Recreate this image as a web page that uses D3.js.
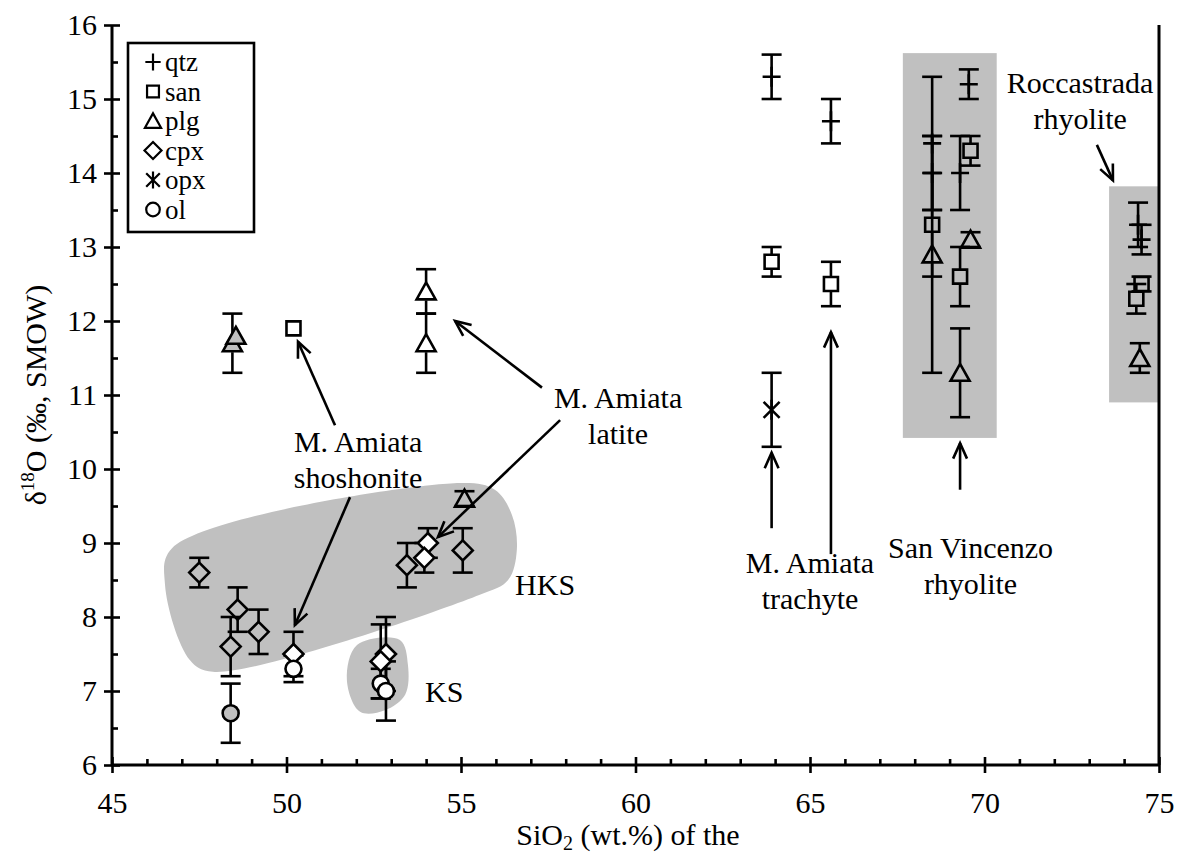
<!DOCTYPE html>
<html><head><meta charset="utf-8">
<script src="https://cdn.jsdelivr.net/npm/d3@7"></script>
<style>
body{margin:0;background:#fff}
svg text{font-family:"Liberation Serif","Times New Roman",serif;fill:#000}
</style>
</head><body>
<svg id="chart" width="1178" height="854"></svg>
<script>
// Mineral δ18O data: [SiO2 of host rock (wt.%), δ18O (‰), ± error]
const qtz = [[63.9,15.3,0.3],[65.6,14.7,0.3],[68.5,14.4,0.9],[68.5,14.0,0.5],[69.55,15.2,0.2],[69.3,14.0,0.5],[74.4,13.3,0.3],[74.5,13.1,0.2]];
const san = [[50.2,11.9,0],[63.9,12.8,0.2],[65.6,12.5,0.3],[68.5,13.3,0.7],[69.6,14.3,0.2],[69.3,12.6,0.4],[74.5,12.5,0.1],[74.35,12.3,0.2]];
const plg = [[48.45,11.7,0.4],[48.55,11.8,0],[54.0,12.4,0.3],[54.0,11.7,0.4],[55.1,9.6,0.1],[68.5,12.9,1.6],[69.6,13.1,0.1],[69.3,11.3,0.6],[74.45,11.5,0.2]];
const cpx = [[47.5,8.6,0.2],[48.6,8.1,0.3],[49.2,7.8,0.3],[48.4,7.6,0.4],[50.2,7.5,0.3],[53.45,8.7,0.3],[54.05,9.0,0.2],[53.95,8.8,0.2],[55.05,8.9,0.3],[52.85,7.5,0.5],[52.7,7.4,0.5]];
const opx = [[63.9,10.8,0.5]];
const ol = [[48.4,6.7,0.4],[50.2,7.3,0.18],[52.7,7.1,0.2],[52.85,7.0,0.4]];

const legendLabels = ["qtz","san","plg","cpx","opx","ol"];
const xTicks = [45,50,55,60,65,70,75];
const yTicks = [6,7,8,9,10,11,12,13,14,15,16];

// Outlined groups (data coordinates)
const hksOutline = [[46.72,8.93],[54.97,9.81],[55.97,9.72],[56.46,9.38],[56.6,8.91],[56.35,8.5],[55.54,8.3],[47.89,7.26],[47.23,7.42],[46.52,8.43]];
const ksOutline = [[52.02,7.62],[53.25,7.69],[53.48,7.35],[53.4,6.95],[52.82,6.74],[52.11,6.72],[51.73,7.15]];
const svBox = [[67.66,10.42],[70.35,15.62]];
const rcBox = [[73.57,10.9],[75,13.82]];

// Annotation labels: [x, baseline y, lines]
const labels = [
  [52.05, 10.23, ["M. Amiata","shoshonite"]],
  [59.5, 10.82, ["M. Amiata","latite"]],
  [65.0, 8.59, ["M. Amiata","trachyte"]],
  [69.6, 8.8, ["San Vincenzo","rhyolite"]],
  [72.74, 15.08, ["Roccastrada","rhyolite"]]
];
const tagLabels = [[56.55, 8.3, "HKS"], [53.97, 6.85, "KS"]];
// Arrows: [fromX, fromY, toX, toY]
const arrows = [
  [51.39,10.59,50.33,11.72],
  [51.82,9.62,50.24,7.89],
  [57.32,11.1,54.83,12.0],
  [57.84,10.66,54.34,9.08],
  [63.9,9.2,63.9,10.22],
  [65.6,8.85,65.6,11.85],
  [69.3,9.72,69.3,10.35],
  [73.22,14.38,73.68,13.9]
];

// Point fills that differ from the default hollow marker
const fills = {"plg:0":"#c0c0c0","plg:1":"#c0c0c0","ol:0":"#c0c0c0","ol:1":"#fff","ol:2":"#fff","ol:3":"#fff",
  "cpx:4":"#fff","cpx:6":"#fff","cpx:7":"#fff","cpx:9":"#fff","cpx:10":"#fff"};

const svg = d3.select("#chart");
const x = d3.scaleLinear().domain([45,75]).range([112,1159]);
const y = d3.scaleLinear().domain([6,16]).range([765,25]);
const GRAY = "#c0c0c0";
const LW = 2.6;

// ---- shaded groups
const outline = d3.line().x(d=>x(d[0])).y(d=>y(d[1])).curve(d3.curveCatmullRomClosed.alpha(0.5));
svg.append("path").attr("d", outline(hksOutline)).attr("fill", GRAY);
svg.append("path").attr("d", outline(ksOutline)).attr("fill", GRAY);
[svBox, rcBox].forEach(b=>{
  svg.append("rect").attr("x", x(b[0][0])).attr("y", y(b[1][1]))
    .attr("width", x(b[1][0])-x(b[0][0])).attr("height", y(b[0][1])-y(b[1][1])).attr("fill", GRAY);
});

// ---- axes
const axes = svg.append("g");
function styleAxis(g){ g.selectAll("path,line").attr("stroke","#000").attr("stroke-width",LW); g.select(".domain").remove(); }
// x axis
const xg = axes.append("g").attr("transform",`translate(0,${y(6)})`);
xg.call(d3.axisBottom(x).tickValues(xTicks).tickSize(8).tickSizeOuter(0).tickFormat(d3.format("d")));
xg.call(styleAxis);
xg.selectAll("text").attr("font-size",30).attr("dy",null).attr("y",48);
axes.append("g").attr("transform",`translate(0,${y(6)})`)
  .call(d3.axisBottom(x).tickValues(xTicks).tickSize(-8).tickFormat("")).call(styleAxis);
axes.append("g").attr("transform",`translate(0,${y(6)})`)
  .call(d3.axisBottom(x).tickValues(d3.range(46,75).filter(v=>v%5)).tickSize(-6).tickFormat("")).call(styleAxis);
// y axis
const yg = axes.append("g").attr("transform",`translate(${x(45)},0)`);
yg.call(d3.axisLeft(y).tickValues(yTicks).tickSize(8).tickSizeOuter(0).tickFormat(d3.format("d")));
yg.call(styleAxis);
yg.selectAll("text").attr("font-size",30).attr("x",-15).attr("dy","0.33em");
axes.append("g").attr("transform",`translate(${x(45)},0)`)
  .call(d3.axisLeft(y).tickValues(yTicks).tickSize(-8).tickFormat("")).call(styleAxis);
axes.append("g").attr("transform",`translate(${x(45)},0)`)
  .call(d3.axisLeft(y).tickValues(d3.range(6.5,16,1)).tickSize(-6).tickFormat("")).call(styleAxis);
// axis lines and right frame
axes.append("line").attr("x1",x(45)).attr("x2",x(75)).attr("y1",y(6)).attr("y2",y(6)).attr("stroke","#000").attr("stroke-width",3);
axes.append("line").attr("x1",x(45)).attr("x2",x(45)).attr("y1",y(16)).attr("y2",y(6)).attr("stroke","#000").attr("stroke-width",3);
axes.append("line").attr("x1",x(75)).attr("x2",x(75)).attr("y1",y(16)).attr("y2",y(6)).attr("stroke","#000").attr("stroke-width",3);

// axis titles
const yt = svg.append("text").attr("transform",`translate(46,${(y(6)+y(16))/2}) rotate(-90)`)
  .attr("text-anchor","middle").attr("font-size",30);
yt.append("tspan").text("δ");
yt.append("tspan").attr("font-size",19).attr("dy",-12).text("18");
yt.append("tspan").attr("dy",12).text("O (‰, SMOW)");
const xt = svg.append("text").attr("x",628).attr("y",845).attr("text-anchor","middle").attr("font-size",30);
xt.append("tspan").text("SiO");
xt.append("tspan").attr("font-size",20).attr("dy",5).text("2");
xt.append("tspan").attr("dy",-5).text(" (wt.%) of the");

// ---- markers
const shapes = {
  qtz: {d:"M-9,0H9M0,-10V10", r:0},
  san: {d:"M-7,-7H7V7H-7Z", r:7},
  plg: {d:"M0,-9L9.5,8H-9.5Z", r:9},
  cpx: {d:"M0,-10L10,0L0,10L-10,0Z", r:10},
  opx: {d:"M-8,-8L8,8M8,-8L-8,8M0,-10V10", r:0},
  ol:  {d:"M8,0A8,8 0 1,1 -8,0A8,8 0 1,1 8,0Z", r:8}
};
const series = {qtz, san, plg, cpx, opx, ol};

const eb = svg.append("g").attr("stroke","#000").attr("stroke-width",LW).attr("fill","none");
const mk = svg.append("g").attr("stroke","#000").attr("stroke-width",LW);
Object.entries(series).forEach(([name, pts])=>{
  const r = shapes[name].r;
  pts.forEach((p,i)=>{
    const cx = x(p[0]), cy = y(p[1]);
    if (p[2] > 0) {
      const yt1 = y(p[1]+p[2]), yb1 = y(p[1]-p[2]);
      if (cy - r > yt1) eb.append("line").attr("x1",cx).attr("x2",cx).attr("y1",yt1).attr("y2",cy-r);
      if (cy + r < yb1) eb.append("line").attr("x1",cx).attr("x2",cx).attr("y1",cy+r).attr("y2",yb1);
      [yt1,yb1].forEach(v=>eb.append("line").attr("x1",cx-10).attr("x2",cx+10).attr("y1",v).attr("y2",v));
    }
    mk.append("path").attr("d",shapes[name].d).attr("transform",`translate(${cx},${cy})`)
      .attr("fill", fills[name+":"+i] || "none");
  });
});

// ---- arrows
const ar = svg.append("g").attr("stroke","#000").attr("stroke-width",LW).attr("fill","none");
arrows.forEach(a=>{
  const x1=x(a[0]), y1=y(a[1]), x2=x(a[2]), y2=y(a[3]);
  const ang = Math.atan2(y2-y1, x2-x1), L=17, w=0.42;
  ar.append("line").attr("x1",x1).attr("y1",y1).attr("x2",x2).attr("y2",y2);
  ar.append("path").attr("d",`M${x2-L*Math.cos(ang-w)},${y2-L*Math.sin(ang-w)}L${x2},${y2}L${x2-L*Math.cos(ang+w)},${y2-L*Math.sin(ang+w)}`);
});

// ---- annotation text
labels.forEach(l=>{
  const t = svg.append("text").attr("x",x(l[0])).attr("y",y(l[1])).attr("text-anchor","middle").attr("font-size",30);
  l[2].forEach((s,i)=>t.append("tspan").attr("x",x(l[0])).attr("dy", i? 36 : 0).text(s));
});
tagLabels.forEach(l=>svg.append("text").attr("x",x(l[0])).attr("y",y(l[1])).attr("font-size",30).text(l[2]));

// ---- legend
const lg = svg.append("g");
lg.append("rect").attr("x",128).attr("y",43).attr("width",126).attr("height",189)
  .attr("fill","#fff").attr("stroke","#000").attr("stroke-width",LW);
legendLabels.forEach((name,i)=>{
  const cy = 62 + i*29.5;
  lg.append("path").attr("d",shapes[name].d).attr("transform",`translate(153,${cy}) scale(0.85)`)
    .attr("fill","none").attr("stroke","#000").attr("stroke-width",LW);
  lg.append("text").attr("x",165).attr("y",cy+9).attr("font-size",27).text(name);
});
</script>
</body></html>
